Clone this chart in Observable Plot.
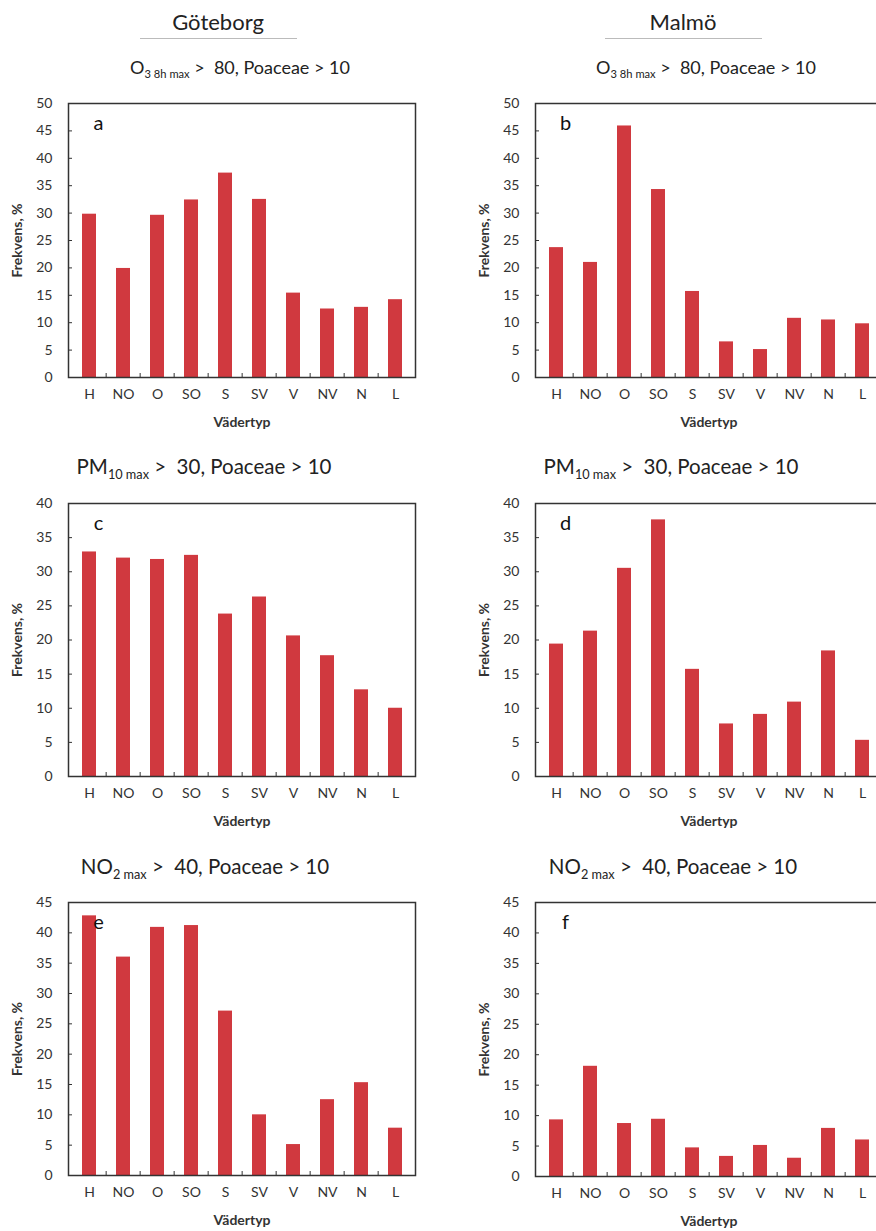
<!DOCTYPE html>
<html><head><meta charset="utf-8">
<script src="https://cdn.jsdelivr.net/npm/d3@7"></script>
<script src="https://cdn.jsdelivr.net/npm/@observablehq/plot@0.6"></script>
<style>
body{margin:0;background:#fff;}
#page{position:relative;width:876px;height:1231px;overflow:hidden;font-family:Lato,"Open Sans",sans-serif;color:#222;background:#fff;}
.abs{position:absolute;white-space:nowrap;transform:translate(-50%,-50%);line-height:1;}
.city{font-size:22px;}
.rule{position:absolute;height:0;border-top:1px solid #bbb;}
.ptitle sub{font-size:0.62em;vertical-align:-0.4em;line-height:0;}
.panel{position:absolute;width:440px;}
.panel svg{max-width:none !important;}
[aria-label="x-axis label"], [aria-label="x-axis label"] text,
[aria-label="y-axis label"], [aria-label="y-axis label"] text{font-weight:bold;}
</style>
</head><body>
<div id="page"></div>
<script>
// ---- data ----
const categories = ["H","NO","O","SO","S","SV","V","NV","N","L"];
const gbgO3  = [29.8, 19.9, 29.6, 32.4, 37.3, 32.5, 15.4, 12.5, 12.8, 14.2];
const mmoO3  = [23.7, 21.0, 45.9, 34.3, 15.7, 6.5, 5.1, 10.8, 10.5, 9.8];
const gbgPM  = [32.9, 32.0, 31.8, 32.4, 23.8, 26.3, 20.6, 17.7, 12.7, 10.0];
const mmoPM  = [19.4, 21.3, 30.5, 37.6, 15.7, 7.7, 9.1, 10.9, 18.4, 5.3];
const gbgNO2 = [42.8, 36.0, 40.9, 41.2, 27.1, 10.0, 5.1, 12.5, 15.3, 7.8];
const mmoNO2 = [9.3, 18.1, 8.7, 9.4, 4.7, 3.3, 5.1, 3.0, 7.9, 6.0];
const ticks50 = [0,5,10,15,20,25,30,35,40,45,50];
const ticks40 = [0,5,10,15,20,25,30,35,40];
const ticks45 = [0,5,10,15,20,25,30,35,40,45];
const cities = ["Göteborg","Malmö"];
const panelLetters = ["a","b","c","d","e","f"];
const yLabel = "Frekvens, %";
const xLabel = "Vädertyp";
const barColor = "#d0393f";

const page = document.getElementById("page");
function add(html, cls, x, y, extra){
  const d = document.createElement("div");
  d.className = "abs " + cls;
  d.innerHTML = html;
  d.style.left = x + "px"; d.style.top = y + "px";
  if (extra) Object.assign(d.style, extra);
  page.appendChild(d);
}
// city headers
add(cities[0], "city", 218, 22);
add(cities[1], "city", 683, 22);
[[140,297],[605,762]].forEach(([a,b])=>{
  const r = document.createElement("div"); r.className="rule";
  r.style.left=a+"px"; r.style.width=(b-a)+"px"; r.style.top="38px"; page.appendChild(r);
});
// panel titles
const tO3 = "O<sub>3 8h max</sub> &gt;&nbsp; 80, Poaceae &gt; 10";
const tPM = "PM<sub>10 max</sub> &gt;&nbsp; 30, Poaceae &gt; 10";
const tNO2 = "NO<sub>2 max</sub> &gt;&nbsp; 40, Poaceae &gt; 10";
add(tO3, "ptitle", 240, 67, {fontSize:"18px"});
add(tO3, "ptitle", 706, 67, {fontSize:"18px"});
add(tPM, "ptitle", 204, 466, {fontSize:"20.5px"});
add(tPM, "ptitle", 671, 466, {fontSize:"20.5px"});
add(tNO2, "ptitle", 205, 866, {fontSize:"20.5px"});
add(tNO2, "ptitle", 673, 866, {fontSize:"20.5px"});

const panels = [
  {letter:panelLetters[0], values:gbgO3,  ticks:ticks50, left:0,   top:93,  frameH:274},
  {letter:panelLetters[1], values:mmoO3,  ticks:ticks50, left:467, top:93,  frameH:274},
  {letter:panelLetters[2], values:gbgPM,  ticks:ticks40, left:0,   top:493, frameH:273},
  {letter:panelLetters[3], values:mmoPM,  ticks:ticks40, left:467, top:493, frameH:273},
  {letter:panelLetters[4], values:gbgNO2, ticks:ticks45, left:0,   top:892, frameH:273},
  {letter:panelLetters[5], values:mmoNO2, ticks:ticks45, left:467, top:892, frameH:274}
];

const W = 440, ML = 68, MR = 25, MT = 10, MB = 58;
const step = (W - ML - MR) / categories.length;

for (const p of panels) {
  const data = categories.map((c,i)=>({cat:c, value:p.values[i]}));
  const yMax = p.ticks[p.ticks.length-1];
  const svg = Plot.plot({
    width: W, height: MT + p.frameH + MB,
    marginLeft: ML, marginRight: MR, marginTop: MT, marginBottom: MB,
    style: {fontFamily: "Lato, 'Open Sans', sans-serif", fontSize: "14px", color: "#333", background: "transparent", maxWidth: "none"},
    x: {domain: categories, paddingInner: 0.6, paddingOuter: 0.3},
    y: {domain: [0, yMax]},
    marks: [
      Plot.barY(data, {x: "cat", y: "value", fill: barColor}),
      Plot.axisY(p.ticks, {tickSize: -4, tickPadding: 20, label: yLabel, labelAnchor: "center", labelOffset: 56, labelArrow: false}),
      Plot.axisX({tickSize: 0, tickPadding: 12, label: xLabel, labelAnchor: "center", labelOffset: 49, labelArrow: false}),
      Plot.axisX(categories.slice(1), {tickSize: -4, tickFormat: () => "", dx: -step/2, label: null}),
      Plot.frame({stroke: "#333", strokeWidth: 1.5}),
      Plot.text([p.letter], {frameAnchor: "top-left", dx: 30, dy: 20, fontSize: 20, textAnchor: "middle", lineAnchor: "middle", fill: "#111"})
    ]
  });
  const wrap = document.createElement("div");
  wrap.className = "panel";
  wrap.style.left = p.left + "px"; wrap.style.top = p.top + "px";
  wrap.appendChild(svg);
  page.appendChild(wrap);
}
</script>
</body></html>
